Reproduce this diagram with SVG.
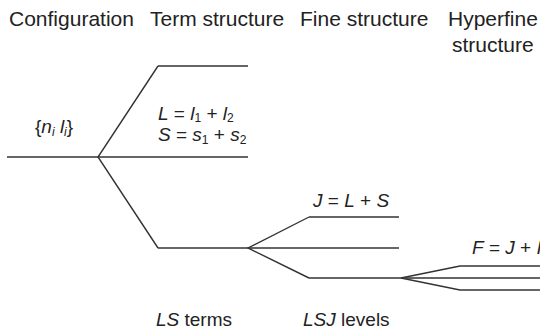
<svg xmlns="http://www.w3.org/2000/svg" width="540" height="330" viewBox="0 0 540 330">
<style>
.t{font-family:"Liberation Sans",Arial,sans-serif;font-size:21px;fill:#222}
.f{font-family:"Liberation Sans",Arial,sans-serif;font-size:19px;fill:#222}
.i{font-style:italic}
.lv{stroke:#333;stroke-width:1.4;fill:none}
</style>
<rect width="540" height="330" fill="#fff"/>
<g id="headers">
<text class="t" x="9" y="26">Configuration</text>
<text class="t" x="150" y="26">Term structure</text>
<text class="t" x="300" y="26">Fine structure</text>
<text class="t" x="448" y="26">Hyperfine</text>
<text class="t" x="452" y="52">structure</text>
</g>
<g id="configuration">
<line class="lv" x1="7" y1="157" x2="98" y2="157"/>
<text class="f" x="35" y="133">{<tspan class="i">n</tspan><tspan class="i" font-size="12" dy="3">i</tspan><tspan class="i" dy="-3"> l</tspan><tspan class="i" font-size="12" dy="3">i</tspan><tspan dy="-3">}</tspan></text>
</g>
<g id="term-upper"><line class="lv" x1="158" y1="66" x2="248" y2="66"/></g>
<g id="term-middle"><line class="lv" x1="98" y1="157" x2="248" y2="157"/></g>
<g id="term-lower"><line class="lv" x1="158" y1="248" x2="248" y2="248"/></g>
<g id="term-formula">
<text class="f" x="158" y="120"><tspan class="i">L</tspan> = <tspan class="i">l</tspan><tspan font-size="12" dy="2">1</tspan><tspan dy="-2"> + </tspan><tspan class="i">l</tspan><tspan font-size="12" dy="2">2</tspan></text>
<text class="f" x="158" y="141"><tspan class="i">S</tspan> = <tspan class="i">s</tspan><tspan font-size="12" dy="3">1</tspan><tspan dy="-3"> + </tspan><tspan class="i">s</tspan><tspan font-size="12" dy="3">2</tspan></text>
</g>
<g id="fine-upper"><line class="lv" x1="309" y1="217" x2="399" y2="217"/></g>
<g id="fine-middle"><line class="lv" x1="248" y1="248" x2="399" y2="248"/></g>
<g id="fine-lower"><line class="lv" x1="309" y1="278" x2="401" y2="278"/></g>
<g id="fine-formula"><text class="f" x="313" y="207"><tspan class="i">J</tspan> = <tspan class="i">L</tspan> + <tspan class="i">S</tspan></text></g>
<g id="hfs-upper"><line class="lv" x1="460" y1="266" x2="540" y2="266"/></g>
<g id="hfs-middle"><line class="lv" x1="401" y1="278" x2="540" y2="278"/></g>
<g id="hfs-lower"><line class="lv" x1="460" y1="290" x2="540" y2="290"/></g>
<g id="hfs-formula"><text class="f" x="472" y="254"><tspan class="i">F</tspan> = <tspan class="i">J</tspan> + <tspan class="i">I</tspan></text></g>
<g id="connectors" class="lv">
<polyline points="158,66 98,157 158,248"/>
<polyline points="309,217 248,248 309,278"/>
<polyline points="460,266 401,278 460,290"/>
</g>
<g id="footers">
<text class="f" x="156" y="326"><tspan class="i">LS</tspan> terms</text>
<text class="f" x="303" y="326"><tspan class="i">LSJ</tspan> levels</text>
</g>
</svg>
